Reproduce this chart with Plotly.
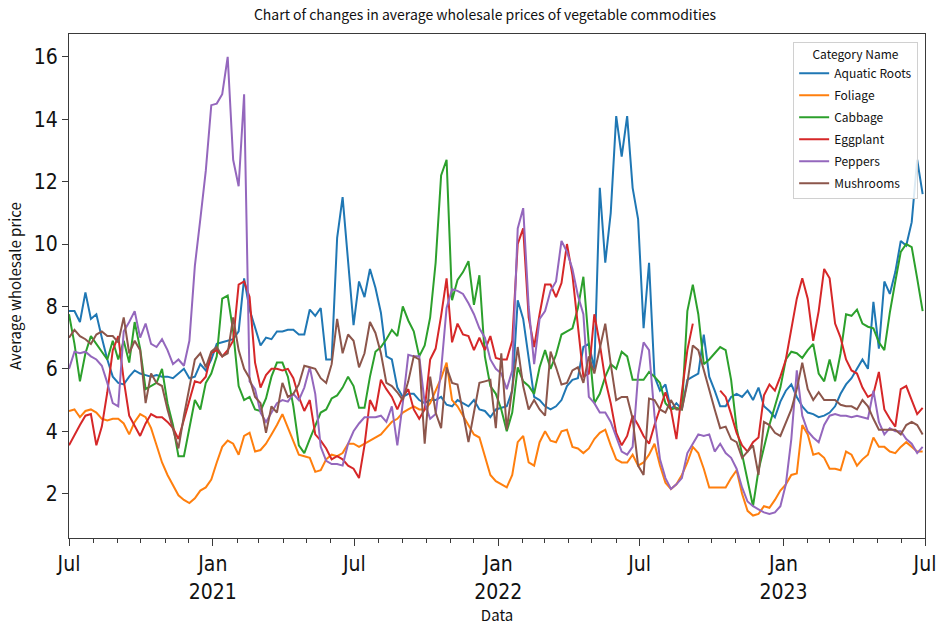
import pandas as pd
import plotly.graph_objects as go

# Weekly average wholesale prices, July 2020 - June 2023
week_start = "2020-07-01"
n_weeks = 157

aquatic_roots = [
    7.85, 7.85, 7.5, 8.45, 7.6, 7.75, 7.0, 6.3, 5.75, 5.55,
    5.5, 5.75, 5.95, 5.85, 5.8, 5.75, 5.8, 5.75, 5.75, 5.7,
    5.85, 6.0, 5.7, 5.75, 6.15, 5.95, 6.3, 6.8, 6.85, 6.9,
    6.95, 7.2, 8.9, 7.9, 7.3, 6.75, 7.0, 6.95, 7.2, 7.2,
    7.25, 7.25, 7.1, 7.1, 7.9, 7.7, 7.95, 6.3, 6.3, 10.2,
    11.5, 9.3, 7.4, 8.8, 8.3, 9.2, 8.6, 7.8, 6.4, 6.3,
    5.4, 5.1, 5.2, 5.2, 5.0, 4.9, 5.0, 5.0, 5.1, 4.85,
    4.8, 5.0, 4.9, 4.8, 5.0, 4.7, 4.65, 4.45, 4.7, 4.75,
    4.8, 5.3, 8.2, 7.6, 6.4, 5.1, 5.0, 4.8, 4.7, 4.8,
    5.0, 5.45, 5.65, 5.7, 6.7, 6.8, 6.0, 11.8, 9.4, 11.0,
    14.1, 12.8, 14.1, 11.8, 10.8, 7.3, 9.4, 5.75, 5.3, 5.5,
    4.7, 4.9, 4.7, 5.65, 5.75, 5.85, 7.1, 5.75, 5.3, 4.8,
    4.8, 5.1, 5.2, 5.1, 5.3, 5.0, 5.4, 4.8, 4.65, 4.45,
    4.95, 5.3, 5.5, 5.1, 4.8, 4.6, 4.55, 4.45, 4.5, 4.6,
    4.8, 5.2, 5.5, 5.7, 6.0, 6.3, 6.0, 8.15, 6.65, 8.8,
    8.4, 9.1, 10.1, 9.95, 10.7, 12.7, 11.6,
]

foliage = [
    4.65, 4.7, 4.45, 4.65, 4.7, 4.6, 4.4, 4.35, 4.4, 4.4,
    4.25, 3.9, 4.3, 4.55, 4.45, 4.1, 3.55, 3.0, 2.6, 2.25,
    1.95, 1.8, 1.7, 1.85, 2.1, 2.2, 2.45, 3.0, 3.5, 3.7,
    3.6, 3.25, 3.85, 3.95, 3.35, 3.4, 3.6, 3.9, 4.2, 4.55,
    4.1, 3.65, 3.25, 3.2, 3.15, 2.7, 2.75, 3.1, 3.25, 3.2,
    3.3, 3.6, 3.6, 3.5, 3.6, 3.7, 3.8, 3.9, 4.1, 4.3,
    4.4, 4.6, 4.7, 4.8, 4.7, 4.7, 4.9, 5.3, 5.7, 6.2,
    5.0, 4.8, 4.5, 4.2, 3.9, 3.8, 3.2, 2.6, 2.4, 2.3,
    2.2, 2.6, 3.65, 3.85, 3.0, 2.9, 3.65, 4.0, 3.7, 3.65,
    4.0, 4.05, 3.5, 3.45, 3.3, 3.45, 3.75, 3.95, 4.05, 3.55,
    3.1, 3.0, 3.0, 3.25, 2.9, 3.0, 3.25, 3.6, 2.9, 2.35,
    2.15, 2.3, 2.6, 3.0, 3.5, 3.3, 2.8, 2.2, 2.2, 2.2,
    2.2, 2.5, 2.75, 2.0, 1.45, 1.3, 1.35, 1.6, 1.55, 1.8,
    2.1, 2.3, 2.6, 2.65, 4.2, 3.9, 3.25, 3.3, 3.15, 2.8,
    2.8, 2.75, 3.35, 3.25, 2.9, 3.1, 3.25, 3.8, 3.5, 3.5,
    3.35, 3.3, 3.5, 3.65, 3.5, 3.35, 3.35,
]

cabbage = [
    7.75, 6.8, 5.6, 6.5, 7.05, 6.8, 6.55, 6.3, 6.9, 6.3,
    6.9, 6.2, 7.5, 6.65, 5.35, 5.45, 5.55, 6.0, 4.9, 4.2,
    3.2, 3.2, 4.1, 5.0, 4.7, 5.55, 5.85, 6.4, 8.25, 8.35,
    7.2, 5.45, 5.0, 5.1, 4.7, 4.65, 5.05, 5.75, 6.2, 6.2,
    5.75, 4.8, 3.55, 3.3, 3.75, 4.15, 4.6, 4.7, 5.05, 5.15,
    5.4, 5.75, 5.45, 4.75, 4.75, 5.75, 6.55, 6.7, 6.95, 7.25,
    7.05, 8.0, 7.55, 7.2, 6.4, 6.75, 7.65, 9.4, 12.2, 12.7,
    8.2, 8.85, 9.1, 9.45, 8.05, 9.0, 6.4, 5.45, 5.2, 4.7,
    4.0, 4.6, 6.05, 5.6, 5.45, 5.2, 6.05, 6.6, 6.0, 6.45,
    7.1, 7.2, 7.3, 7.95, 8.95, 6.8, 4.9, 5.2, 5.75, 6.15,
    6.0, 6.55, 6.4, 5.65, 5.65, 5.65, 5.9, 5.75, 5.55, 4.9,
    4.7, 4.75, 4.7, 7.85, 8.7, 7.75, 6.15, 6.3, 6.5, 6.7,
    6.6, 5.65, 4.1, 3.25, 2.4, 1.6, 2.75, 3.45, 4.2, 4.8,
    5.4, 6.3, 6.55, 6.5, 6.35, 6.6, 6.8, 5.85, 5.6, 6.3,
    5.6, 6.5, 7.75, 7.7, 7.9, 7.45, 7.35, 7.3, 6.85, 6.6,
    7.8, 8.8, 9.75, 10.0, 9.9, 8.9, 7.85,
]

# None marks weeks with no eggplant quotes
eggplant = [
    3.55, 3.9, 4.2, 4.5, 4.55, 3.55, 4.15, 5.25, 6.6, 7.05,
    5.65, 4.5, 4.15, 3.85, 4.25, 4.55, 4.45, 4.45, 4.3, 4.1,
    3.75, 4.35, 5.0, 5.6, 5.55, 5.75, 6.5, 6.6, 6.4, 6.6,
    6.9, 8.7, 8.8, 8.3, 6.2, 5.4, 5.8, 6.0, 6.0, 5.95,
    6.0, 5.7, 5.1, 4.65, 5.0, 3.9, 3.7, 3.45, 3.1, 3.2,
    3.1, 2.9, 2.8, 2.5, 3.55, 5.0, 4.65, 5.65, 5.35, 5.1,
    4.7, 5.1, 5.35, 4.7, 4.4, 4.7, 6.3, 6.65, 7.7, 8.9,
    6.85, 7.45, 7.1, 7.05, 6.6, 7.0, 6.6, 7.05, 6.35, 6.3,
    6.3, 6.9, 10.0, 10.5, 7.65, 6.7, 7.75, 8.7, 8.7, 8.3,
    8.75, 10.0, 9.0, 7.45, 5.75, 5.85, 7.75, 6.8, 5.65, 4.9,
    3.95, 3.55, 3.85, 4.5, 4.2, 3.85, 3.6, 4.2, 4.7, 5.25,
    4.7, 3.75, 5.25, 6.6, 7.45, None, None, None, None, 5.3,
    5.1, 4.55, 3.95, 3.55, 3.35, 3.65, 3.8, 5.15, 5.5, 5.3,
    5.75, 6.3, 7.3, 8.25, 8.9, 8.25, 6.9, 7.85, 9.2, 8.9,
    7.45, 7.0, 6.3, 5.95, 5.85, 5.4, 5.1, 5.2, 5.9, 4.7,
    4.4, 4.15, 5.35, 5.45, 5.0, 4.55, 4.75,
]

peppers = [
    6.0, 6.55, 6.5, 6.55, 6.4, 6.3, 6.1, 5.55, 4.9, 4.8,
    7.2, 7.5, 7.85, 7.0, 7.45, 6.8, 6.7, 6.95, 6.6, 6.15,
    6.3, 6.1, 6.9, 9.3, 10.8, 12.35, 14.45, 14.5, 14.8, 16.0,
    12.7, 11.85, 14.8, 5.6, 5.35, 4.6, 4.3, 4.6, 4.9, 5.0,
    4.95, 5.2, 5.0, 5.4, 6.05, 5.2, 3.5, 3.05, 2.95, 2.95,
    2.9, 3.6, 4.0, 4.25, 4.45, 4.45, 4.45, 4.5, 4.3, 4.8,
    3.55, 4.9, 6.45, 6.4, 6.4, 4.9, 4.4, 4.55, 5.95, 7.95,
    8.55, 8.5, 8.4, 8.1, 7.75, 7.3, 7.0, 6.3, 6.0, 5.85,
    5.35, 5.95, 10.5, 11.15, 8.0, 6.15, 7.6, 7.85, 8.5, 8.8,
    10.1, 9.75, 9.2, 8.35, 7.75, 5.1, 4.9, 4.6, 4.6, 4.3,
    3.85, 3.35, 3.25, 3.5, 5.8, 6.85, 6.6, 4.5, 3.1, 2.5,
    2.15, 2.3, 2.5, 3.3, 3.6, 3.9, 3.85, 3.9, 3.35, 3.6,
    3.3, 3.15, 2.8, 2.2, 1.75, 1.6, 1.5, 1.4, 1.35, 1.4,
    1.6, 2.3, 3.75, 5.95, 4.5, 4.0, 3.8, 3.65, 4.2, 4.5,
    4.55, 4.5, 4.5, 4.45, 4.5, 4.45, 4.4, 5.3, 4.3, 3.9,
    4.1, 4.0, 4.0, 3.75, 3.6, 3.3, 3.5,
]

mushrooms = [
    7.0, 7.25, 7.05, 6.95, 6.8, 7.1, 7.2, 7.05, 7.05, 6.85,
    7.65, 6.5, 6.9, 6.6, 4.9, 5.85, 5.55, 5.45, 4.7, 4.1,
    3.45, 4.5, 5.35, 6.3, 6.5, 6.05, 6.55, 6.7, 6.4, 6.5,
    7.65, 6.6, 6.0, 5.7, 5.1, 4.9, 3.95, 4.8, 4.6, 5.55,
    5.1, 5.2, 5.5, 6.1, 6.05, 6.0, 5.7, 5.55, 6.15, 7.6,
    6.5, 7.1, 6.9, 6.05, 6.5, 7.5, 7.15, 6.5, 5.55, 5.45,
    5.25, 5.0, 5.6, 6.4, 6.3, 3.6, 5.75, 4.6, 4.1, 6.05,
    5.55, 5.5, 4.6, 3.65, 4.6, 5.55, 5.6, 5.65, 4.1, 6.5,
    4.05, 5.45, 6.7, 5.45, 4.7, 5.0, 4.7, 4.5, 6.55, 6.05,
    5.5, 5.55, 5.95, 6.05, 5.55, 6.4, 5.85, 6.65, 7.45, 6.15,
    5.0, 5.1, 5.1, 4.4, 2.9, 2.6, 5.05, 5.0, 4.7, 4.6,
    5.0, 4.7, 4.7, 5.55, 6.75, 6.6, 5.95, 5.35, 4.7, 4.1,
    4.15, 3.75, 3.65, 3.15, 3.35, 3.55, 2.6, 4.3, 4.2, 3.95,
    3.85, 4.3, 4.7, 5.35, 6.2, 5.35, 5.0, 5.25, 5.0, 5.0,
    5.0, 4.85, 4.8, 4.8, 4.7, 5.0, 4.8, 4.4, 4.05, 4.05,
    4.05, 4.05, 3.9, 4.2, 4.3, 4.2, 3.9,
]

category_names = ["Aquatic Roots", "Foliage", "Cabbage", "Eggplant", "Peppers", "Mushrooms"]
series_values = [aquatic_roots, foliage, cabbage, eggplant, peppers, mushrooms]
line_colors = ["#1f77b4", "#ff7f0e", "#2ca02c", "#d62728", "#9467bd", "#8c564b"]

tick_dates = ["2020-07-01", "2021-01-01", "2021-07-01", "2022-01-01",
              "2022-07-01", "2023-01-01", "2023-07-01"]
tick_labels = ["Jul", "Jan<br>2021", "Jul", "Jan<br>2022", "Jul", "Jan<br>2023", "Jul"]
y_ticks = [2, 4, 6, 8, 10, 12, 14, 16]

dates = pd.date_range(week_start, periods=n_weeks, freq="7D")

fig = go.Figure()
for name, values, color in zip(category_names, series_values, line_colors):
    fig.add_trace(go.Scatter(
        x=dates, y=values, mode="lines", name=name,
        legendgroup=name,
        line=dict(color=color, width=2),
        connectgaps=False,
    ))

label_font = "Noto Sans CJK SC, Noto Sans, sans-serif"
tick_font = "Liberation Sans Narrow, DejaVu Sans Condensed, Liberation Sans, sans-serif"
frame = "#3a3a3a"

fig.update_layout(
    width=948, height=630,
    margin=dict(l=69, r=18, t=34, b=82),
    paper_bgcolor="white", plot_bgcolor="white",
    title=dict(
        text="Chart of changes in average wholesale prices of vegetable commodities",
        font=dict(family=label_font, size=14, color="#111"),
        x=0.486, xref="paper", xanchor="center",
        y=0.976, yref="container", yanchor="middle",
    ),
    legend=dict(
        title=dict(text="Category Name", side="top center",
                   font=dict(family=label_font, size=12, color="#111")),
        font=dict(family=label_font, size=12, color="#111"),
        x=0.992, xanchor="right", y=0.984, yanchor="top",
        bgcolor="rgba(255,255,255,0.85)", bordercolor="#d0d0d0", borderwidth=1,
        itemwidth=30, tracegroupgap=3,
    ),
    showlegend=True,
)

fig.update_xaxes(
    type="date",
    range=["2020-07-01", "2023-07-01"],
    tickvals=tick_dates, ticktext=tick_labels,
    tickfont=dict(family=tick_font, size=21, color="#111"),
    ticks="outside", ticklen=7, tickwidth=1, tickcolor=frame,
    minor=dict(ticks="outside", ticklen=3.5, tickcolor=frame, dtick="M1",
               tick0="2020-07-01", showgrid=False),
    showline=True, linecolor=frame, linewidth=1.2, mirror=True,
    showgrid=False, zeroline=False,
    title=dict(text="Data", font=dict(family=label_font, size=15, color="#111"),
               standoff=4),
)

fig.update_yaxes(
    range=[0.58, 16.73],
    tickvals=y_ticks,
    tickfont=dict(family=tick_font, size=21, color="#111"),
    ticks="outside", ticklen=6, tickwidth=1, tickcolor=frame,
    showline=True, linecolor=frame, linewidth=1.2, mirror=True,
    showgrid=False, zeroline=False,
    title=dict(text="Average wholesale price",
               font=dict(family=label_font, size=15, color="#111"), standoff=8),
)

fig.write_html("out.html")
